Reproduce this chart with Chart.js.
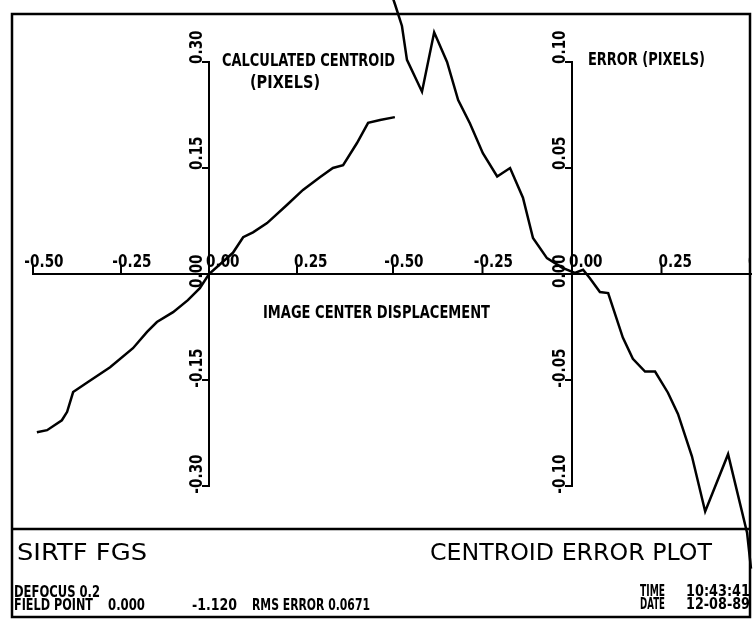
<!DOCTYPE html>
<html>
<head>
<meta charset="utf-8">
<title>SIRTF FGS - Centroid Error Plot</title>
<script src="https://cdn.jsdelivr.net/npm/chart.js@4.4.1/dist/chart.umd.min.js"></script>
<style>
  body { margin: 0; background: #fff; }
  #wrap { position: relative; width: 754px; height: 622px; }
  #wrap canvas { position: absolute; left: 0; top: 0; }
</style>
</head>
<body>
<div id="wrap">
  <canvas id="centroid-chart" width="754" height="622"></canvas>
  <canvas id="error-chart" width="754" height="622"></canvas>
</div>
<script>
// Calculated centroid (pixels) against image center displacement
const centroidDisp = [-0.489, -0.460, -0.418, -0.403, -0.386, -0.347, -0.281, -0.216, -0.176, -0.148,
  -0.102, -0.060, -0.026, 0, 0.068, 0.097, 0.125, 0.165, 0.222, 0.267, 0.315, 0.352, 0.381,
  0.420, 0.452, 0.486, 0.528];
const centroidVals = [-0.224, -0.221, -0.207, -0.195, -0.167, -0.154, -0.132, -0.105, -0.082, -0.068,
  -0.054, -0.037, -0.020, 0, 0.030, 0.052, 0.059, 0.072, 0.098, 0.119, 0.137, 0.150, 0.154,
  0.185, 0.214, 0.218, 0.222];

// Centroid error (pixels) against image center displacement
const errorDisp = [-0.500, -0.494, -0.475, -0.461, -0.419, -0.385, -0.349, -0.318, -0.285, -0.249,
  -0.209, -0.173, -0.137, -0.109, -0.070, -0.028, 0.008, 0.031, 0.050, 0.078, 0.101, 0.142,
  0.170, 0.204, 0.232, 0.268, 0.296, 0.335, 0.372, 0.436, 0.489, 0.500];
const errorVals = [0.130, 0.127, 0.117, 0.101, 0.086, 0.114, 0.100, 0.082, 0.071, 0.057,
  0.046, 0.050, 0.036, 0.017, 0.0075, 0.003, 0.0005, 0.002, -0.002, -0.0085, -0.009, -0.030,
  -0.040, -0.046, -0.046, -0.056, -0.066, -0.086, -0.112, -0.085, -0.122, -0.139];

const centroidXTicks = [-0.5, -0.25, 0, 0.25];
const errorXTicks = [-0.5, -0.25, 0, 0.25, 0.5];
const centroidYTicks = [-0.3, -0.15, 0, 0.15, 0.3];
const errorYTicks = [-0.1, -0.05, 0, 0.05, 0.1];

const FONT = '"DejaVu Sans"';

// draw text squeezed horizontally so it spans the given width
function fitText(ctx, text, x, y, width, size, weight) {
  ctx.save();
  ctx.font = weight + ' ' + size + 'px ' + FONT;
  const w = ctx.measureText(text).width;
  ctx.translate(x, y);
  ctx.scale(width / w, 1);
  ctx.textBaseline = 'alphabetic';
  ctx.textAlign = 'left';
  ctx.fillText(text, 0, 0);
  ctx.restore();
}

// axes crossing at the origin, plotter style
const crossAxes = {
  id: 'crossAxes',
  beforeDatasetsDraw(chart, args, opts) {
    const ctx = chart.ctx;
    const x = chart.scales.x, y = chart.scales.y;
    const x0 = x.getPixelForValue(0), y0 = y.getPixelForValue(0);
    const sx = 0.8;
    ctx.save();
    ctx.strokeStyle = '#000';
    ctx.fillStyle = '#000';
    ctx.lineWidth = 2;
    ctx.lineCap = 'square';

    ctx.beginPath();
    ctx.moveTo(x.getPixelForValue(-0.5), y0);
    ctx.lineTo(x.getPixelForValue(0.5) + (opts.extend || 0), y0);
    ctx.moveTo(x0, y.getPixelForValue(y.min));
    ctx.lineTo(x0, y.getPixelForValue(y.max));
    ctx.stroke();

    ctx.font = 'bold 17px ' + FONT;
    ctx.textBaseline = 'alphabetic';
    const minusW = ctx.measureText('-').width * sx;

    // horizontal ticks and labels above the line
    if (opts.clipRight) {
      ctx.save();
      ctx.beginPath();
      ctx.rect(0, 0, opts.clipRight, chart.height);
      ctx.clip();
    }
    opts.xTicks.forEach(v => {
      const px = x.getPixelForValue(v);
      ctx.beginPath();
      ctx.moveTo(px, y0);
      ctx.lineTo(px, y0 - 8);
      ctx.stroke();
      const label = v.toFixed(2);
      ctx.save();
      ctx.translate(px - 3 - (v < 0 ? minusW : 0), y0 - 7);
      ctx.scale(sx, 1);
      ctx.fillText(label, 0, 0);
      ctx.restore();
    });
    if (opts.clipRight) ctx.restore();

    // vertical ticks and rotated labels; the zero label sits across the x axis
    opts.yTicks.forEach(v => {
      const py = y.getPixelForValue(v);
      ctx.beginPath();
      ctx.moveTo(x0, py);
      ctx.lineTo(x0 - 6, py);
      ctx.stroke();
      const label = v.toFixed(2);
      const shift = v === 0 ? 14 : 2;
      ctx.save();
      ctx.translate(x0 - 7, py + shift + (v < 0 ? minusW : 0));
      ctx.rotate(-Math.PI / 2);
      ctx.scale(sx, 1);
      ctx.fillText(label, 0, 0);
      ctx.restore();
    });

    (opts.titles || []).forEach(t => fitText(ctx, t[0], t[1], t[2], t[3], 18, 'bold'));
    ctx.restore();
  }
};

// outer frame and the title block underneath the plots
const titleBlock = {
  id: 'titleBlock',
  beforeDraw(chart) {
    const ctx = chart.ctx;
    ctx.save();
    ctx.strokeStyle = '#000';
    ctx.fillStyle = '#000';
    ctx.lineWidth = 2.5;
    ctx.strokeRect(12, 14, 738, 603);
    ctx.beginPath();
    ctx.moveTo(12, 529);
    ctx.lineTo(750, 529);
    ctx.stroke();

    fitText(ctx, 'SIRTF FGS', 17, 560, 130, 23, 'normal');
    fitText(ctx, 'CENTROID ERROR PLOT', 430, 560, 282, 23, 'normal');
    fitText(ctx, 'DEFOCUS 0.2', 14, 597, 86, 15, 'bold');
    fitText(ctx, 'FIELD POINT', 14, 610, 79, 15, 'bold');
    fitText(ctx, '0.000', 108, 610, 37, 15, 'bold');
    fitText(ctx, '-1.120', 192, 610, 45, 15, 'bold');
    fitText(ctx, 'RMS ERROR 0.0671', 252, 610, 118, 15, 'bold');
    fitText(ctx, 'TIME', 640, 596, 25, 15, 'bold');
    fitText(ctx, 'DATE', 640, 609, 25, 15, 'bold');
    fitText(ctx, '10:43:41', 686, 596, 64, 15, 'bold');
    fitText(ctx, '12-08-89', 686, 609, 64, 15, 'bold');
    ctx.restore();
  }
};

function panelConfig(xs, ys, yLim, padding, axisOpts, extraPlugins) {
  return {
    type: 'line',
    data: {
      datasets: [{
        data: xs.map((v, i) => ({ x: v, y: ys[i] })),
        borderColor: '#000',
        borderWidth: 2.5,
        pointRadius: 0,
        tension: 0,
        fill: false,
        clip: false
      }]
    },
    options: {
      responsive: false,
      animation: false,
      events: [],
      layout: { padding: padding },
      scales: {
        x: { type: 'linear', min: -0.5, max: 0.5, display: false },
        y: { type: 'linear', min: -yLim, max: yLim, display: false }
      },
      plugins: {
        legend: { display: false },
        tooltip: { enabled: false },
        crossAxes: axisOpts
      }
    },
    plugins: [crossAxes].concat(extraPlugins || [])
  };
}

new Chart(document.getElementById('centroid-chart'), panelConfig(
  centroidDisp, centroidVals, 0.3,
  { left: 33, right: 369, top: 62, bottom: 136 },
  {
    xTicks: centroidXTicks, yTicks: centroidYTicks, extend: 8,
    titles: [
      ['CALCULATED CENTROID', 222, 66, 173],
      ['(PIXELS)', 250, 88, 70],
      ['IMAGE CENTER DISPLACEMENT', 263, 318, 227]
    ]
  },
  [titleBlock]
));

new Chart(document.getElementById('error-chart'), panelConfig(
  errorDisp, errorVals, 0.1,
  { left: 393, right: 3, top: 62, bottom: 136 },
  {
    xTicks: errorXTicks, yTicks: errorYTicks, clipRight: 749,
    titles: [
      ['ERROR (PIXELS)', 588, 65, 117]
    ]
  }
));
</script>
</body>
</html>
